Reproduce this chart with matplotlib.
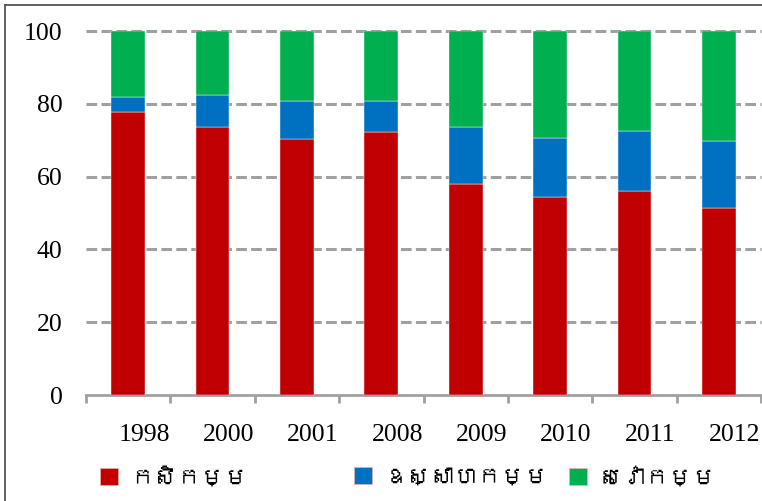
import matplotlib
matplotlib.use("Agg")
import matplotlib.pyplot as plt
import matplotlib.font_manager as fm
from matplotlib import ft2font
from matplotlib.lines import Line2D
from matplotlib.patches import Patch
import matplotlib.transforms as mtransforms
import numpy as np

years = ["1998", "2000", "2001", "2008", "2009", "2010", "2011", "2012"]
agriculture = [77.7, 73.7, 70.2, 72.2, 58.0, 54.4, 56.0, 51.4]
industry = [4.1, 8.6, 10.6, 8.6, 15.5, 16.2, 16.6, 18.3]
services = [18.2, 17.7, 19.2, 19.2, 26.5, 29.4, 27.4, 30.3]
series_names = ["កសិកម្ម", "ឧស្សាហកម្ម", "សេវាកម្ម"]
colors = ["#C00000", "#0070C0", "#00B050"]
yticks = [0, 20, 40, 60, 80, 100]


def find_khmer_font():
    # pick any installed family that has Khmer glyphs
    for f in fm.fontManager.ttflist:
        try:
            if 0x1780 in ft2font.FT2Font(f.fname).get_charmap():
                return f.name
        except Exception:
            pass
    return None


khmer = find_khmer_font()
legend_family = [khmer, "DejaVu Sans"] if khmer else ["DejaVu Sans"]

plt.rcParams["font.family"] = ["Liberation Serif", "DejaVu Serif"]

fig = plt.figure(figsize=(7.62, 5.01), dpi=100)
ax = fig.add_axes([86 / 762, 106 / 501, 675 / 762, 364 / 501])

x = np.arange(len(years))
width = 0.40
bottom = np.zeros(len(years))
for vals, col in zip([agriculture, industry, services], colors):
    ax.bar(x, vals, width, bottom=bottom, color=col, zorder=3,
           edgecolor="#ffffff", linewidth=0.3)
    bottom += np.array(vals)

ax.set_xlim(-0.5, len(years) - 0.5)
ax.set_ylim(0, 100)

# y axis
ax.set_yticks(yticks)
ax.set_yticklabels([str(v) for v in yticks], fontsize=18.5)
ax.tick_params(axis="y", length=0, pad=17)
for v in yticks[1:]:
    ax.axhline(v, color="#a0a0a0", lw=2.2, ls=(0, (3.5, 1.4)), zorder=1,
               clip_on=False)

# x axis
ax.set_xticks(x)
ax.set_xticklabels(years, fontsize=18.5)
ax.tick_params(axis="x", length=0, pad=21)
offset = mtransforms.ScaledTranslation(16 / 100, 0, fig.dpi_scale_trans)
for lab in ax.get_xticklabels():
    lab.set_transform(lab.get_transform() + offset)
ax.set_xticks(np.arange(-0.5, len(years)), minor=True)
ax.tick_params(axis="x", which="minor", length=6, width=2, color="#a0a0a0",
               direction="out")

for side in ["top", "right", "left"]:
    ax.spines[side].set_visible(False)
ax.spines["bottom"].set_color("#a0a0a0")
ax.spines["bottom"].set_linewidth(2)

# legend entries spread out like the original
legend_x = [79 / 762, 333 / 762, 548 / 762]
for name, col, lx in zip(series_names, colors, legend_x):
    h = Patch(facecolor=col, edgecolor="#f0b0b0", linewidth=0.5)
    fig.legend(handles=[h], labels=[name], loc="center left",
               bbox_to_anchor=(lx, 1 - 477 / 501), frameon=False,
               handlelength=0.75, handleheight=0.75, handletextpad=0.5,
               prop={"family": legend_family, "size": 17})

# outer chart border (cropped on the right and bottom)
fig.add_artist(Line2D([5 / 762, 5 / 762], [0, 1 - 5 / 501],
                      transform=fig.transFigure, color="#555555", lw=1.3))
fig.add_artist(Line2D([5 / 762, 1], [1 - 5 / 501, 1 - 5 / 501],
                      transform=fig.transFigure, color="#555555", lw=1.3))

fig.savefig("out.png", dpi=100)
